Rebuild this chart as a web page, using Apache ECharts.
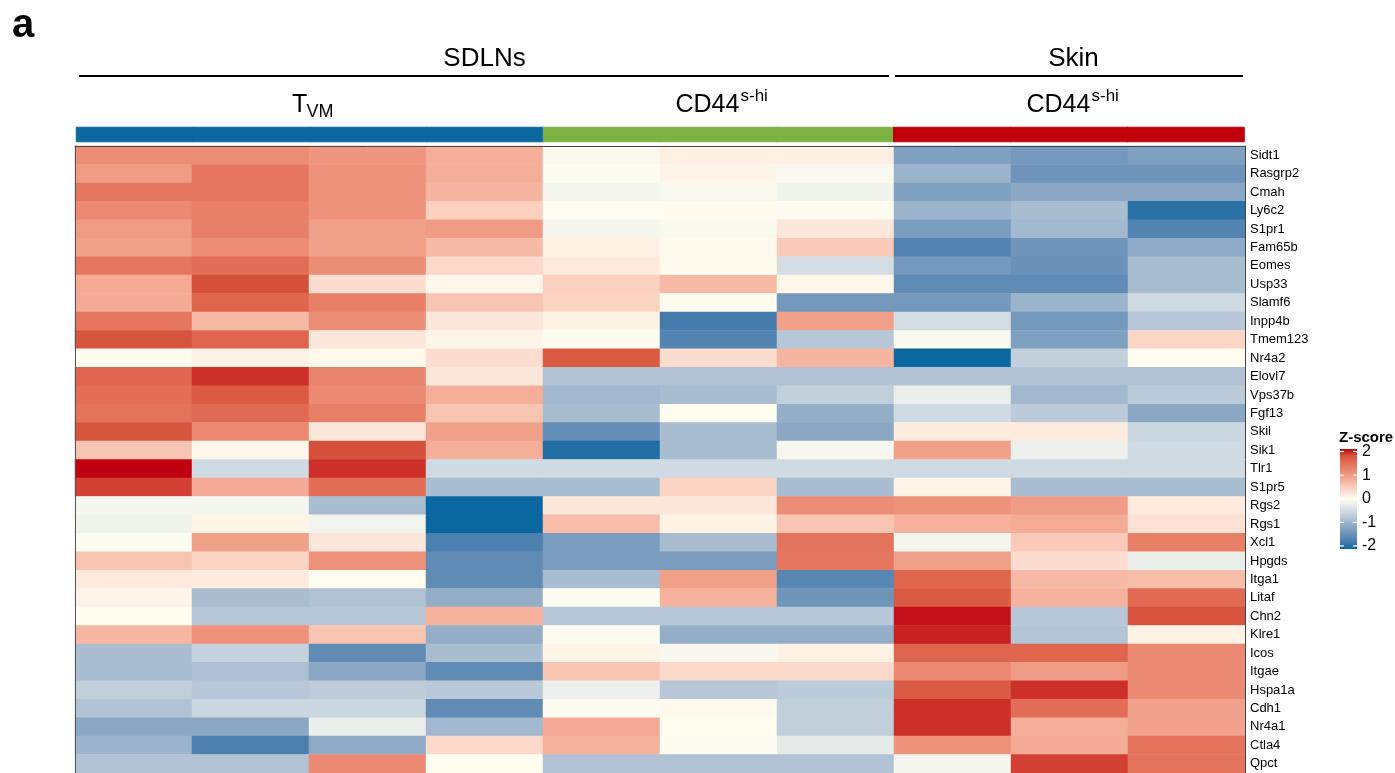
<!DOCTYPE html>
<html><head><meta charset="utf-8">
<script src="https://cdn.jsdelivr.net/npm/echarts@6/dist/echarts.min.js"></script>
<style>html,body{margin:0;padding:0;background:#fff}#c{width:1395px;height:773px}</style>
</head><body><div id="c"></div>
<script>
// ---------- data ----------
const genes = ['Sidt1','Rasgrp2','Cmah','Ly6c2','S1pr1','Fam65b','Eomes','Usp33','Slamf6','Inpp4b',
  'Tmem123','Nr4a2','Elovl7','Vps37b','Fgf13','Skil','Sik1','Tlr1','S1pr5','Rgs2','Rgs1','Xcl1',
  'Hpgds','Itga1','Litaf','Chn2','Klre1','Icos','Itgae','Hspa1a','Cdh1','Nr4a1','Ctla4','Qpct'];
const columnGroup = [0,0,0,0,1,1,1,2,2,2]; // 0: SDLNs TVM, 1: SDLNs CD44s-hi, 2: Skin CD44s-hi
const groupColors = ['#0A689F','#7DB342','#C0000D'];

// z-scores, one row per gene
const tvm = [
  [1.1,1.1,1.0,0.75],[0.95,1.35,1.05,0.75],[1.35,1.35,1.05,0.7],[1.15,1.25,1.05,0.45],
  [0.95,1.25,0.9,0.95],[0.9,1.1,0.9,0.65],[1.35,1.45,1.1,0.35],[0.8,1.75,0.3,0.05],
  [0.8,1.55,1.25,0.55],[1.35,0.65,1.1,0.2],[1.7,1.55,0.2,0.08],[0.0,0.1,0.04,0.3],
  [1.55,1.85,1.2,0.2],[1.45,1.65,1.15,0.75],[1.4,1.5,1.25,0.55],[1.7,1.15,0.2,0.9],
  [0.55,0.06,1.75,0.75],[2.0,-0.5,1.85,-0.5],[1.8,0.8,1.45,-0.85],[-0.1,-0.1,-0.85,-2.0],
  [-0.15,0.08,-0.12,-2.0],[-0.02,0.9,0.2,-1.65],[0.55,0.4,1.05,-1.5],[0.18,0.15,0.0,-1.5],
  [0.08,-0.85,-0.8,-1.0],[0.0,-0.75,-0.75,0.72],[0.68,1.05,0.55,-1.0],[-0.85,-0.6,-1.5,-0.85],
  [-0.85,-0.82,-1.1,-1.5],[-0.65,-0.75,-0.68,-0.72],[-0.8,-0.55,-0.55,-1.5],[-1.1,-1.1,-0.2,-0.9],
  [-0.95,-1.65,-1.05,0.35],[-0.8,-0.8,1.15,0.0]
];
const sdlnCd44 = [
  [-0.05,0.12,0.12],[-0.02,0.07,-0.05],[-0.1,-0.05,-0.15],[0.0,0.02,-0.01],[-0.1,-0.05,0.2],
  [0.1,0.03,0.5],[0.15,0.02,-0.45],[0.45,0.65,0.05],[0.4,0.02,-1.3],[0.1,-1.7,0.9],
  [-0.02,-1.6,-0.75],[1.65,0.3,0.7],[-0.8,-0.8,-0.8],[-0.9,-0.85,-0.65],[-0.85,0.0,-1.0],
  [-1.45,-0.85,-1.1],[-1.9,-0.85,-0.08],[-0.5,-0.5,-0.5],[-0.85,0.4,-0.85],[0.2,0.2,1.1],
  [0.62,0.1,0.55],[-1.25,-0.85,1.4],[-1.25,-1.25,1.35],[-0.85,0.9,-1.55],[-0.02,0.72,-1.35],
  [-0.75,-0.75,-0.75],[-0.01,-1.0,-1.0],[0.08,-0.07,0.1],[0.55,0.35,0.35],[-0.18,-0.75,-0.7],
  [-0.02,0.03,-0.65],[0.8,0.0,-0.65],[0.72,-0.02,-0.25],[-0.8,-0.8,-0.8]
];
const skinCd44 = [
  [-1.2,-1.3,-1.2],[-0.95,-1.35,-1.35],[-1.2,-1.1,-1.1],[-0.95,-0.85,-1.85],[-1.25,-0.9,-1.6],
  [-1.6,-1.35,-1.05],[-1.3,-1.4,-0.85],[-1.5,-1.5,-0.85],[-1.3,-0.95,-0.5],[-0.45,-1.3,-0.75],
  [-0.05,-1.2,0.38],[-2.0,-0.65,0.0],[-0.8,-0.8,-0.8],[-0.2,-0.9,-0.7],[-0.5,-0.7,-1.1],
  [0.15,0.15,-0.55],[0.9,-0.18,-0.5],[-0.5,-0.5,-0.5],[0.08,-0.85,-0.85],[1.05,0.95,0.17],
  [0.72,0.78,0.25],[-0.1,0.5,1.25],[0.9,0.3,-0.2],[1.55,0.65,0.62],[1.65,0.72,1.5],
  [1.95,-0.75,1.7],[1.9,-0.78,0.1],[1.55,1.55,1.15],[1.15,0.95,1.15],[1.65,1.85,1.15],
  [1.85,1.45,0.88],[1.85,0.75,0.88],[1.05,0.8,1.4],[-0.1,1.8,1.4]
];
const legendTicks = [2, 1, 0, -1, -2];
const zColors = ['#0A679F','#4078AA','#5F8BB5','#7A9CBF','#94AEC8','#B7C7D7','#CFDAE2','#E6EBEA',
  '#FFFDF0','#FDE2D4','#FACBBA','#F5AF99','#EF9680','#E88068','#E16A54','#D5503A','#C00010'];

// ---------- layout ----------
const L = 75, T = 146, W = 1170, rowH = 18.57, H = rowH * genes.length;
const cellW = W / columnGroup.length;
const cx = i => L + i * cellW;

const heatData = [];
genes.forEach((g, gi) => {
  const row = tvm[gi].concat(sdlnCd44[gi], skinCd44[gi]);
  row.forEach((v, ci) => heatData.push([ci, gi, v]));
});
const annData = columnGroup.map((g, ci) => ({value:[ci, 0, g],
  itemStyle:{borderColor:groupColors[g], borderWidth:1}}));
const cols = columnGroup.map((g, i) => 'c' + i);

const font = 'Arial, "Liberation Sans", Helvetica, sans-serif';
const graphics = [];
function txt(x, y, s, size, opts) {
  graphics.push(Object.assign({type:'text', x, y, z:100, style:Object.assign({text:s, font: size + 'px ' + font, fill:'#000', textAlign:'left', textVerticalAlign:'middle'}, opts||{})}));
}
function line(x1, y1, x2, y2, w, c) {
  graphics.push({type:'line', z:100, shape:{x1,y1,x2,y2}, style:{stroke:c||'#000', lineWidth:w}});
}
txt(12, 26, 'a', 40, {font:'bold 40px ' + font});
// SDLNs / Skin headers
txt((cx(0) + cx(7)) / 2, 58.5, 'SDLNs', 26, {textAlign:'center'});
line(cx(0) + 4, 76, cx(7) - 5, 76, 2);
txt((cx(7) + cx(10)) / 2 + 4, 58.5, 'Skin', 26, {textAlign:'center'});
line(cx(7) + 1, 76, cx(10) - 2, 76, 2);
// sub headers
const tvmC = (cx(0) + cx(4)) / 2;
txt(tvmC - 17, 105, 'T', 25);
txt(tvmC - 2.5, 112.5, 'VM', 18);
[[cx(4), cx(7)], [cx(7), cx(10)]].forEach(([a, b]) => {
  const c = (a + b) / 2;
  txt(c - 43, 105, 'CD44', 25);
  txt(c + 22, 96, 's-hi', 17);
});
// legend
const lgX = 1340, lgW = 17, lgTop = 449, lgBot = 549;
const tickY = v => 451.5 + (2 - v) * 23.6;
txt(1339, 438, 'Z-score', 15, {font:'bold 15px ' + font});
graphics.push({type:'rect', z:100, shape:{x:lgX, y:lgTop, width:lgW, height:lgBot - lgTop},
  style:{fill:new echarts.graphic.LinearGradient(0, 0, 0, 1,
    zColors.slice().reverse().map((c, i) => ({offset:i / (zColors.length - 1), color:c})))}});
legendTicks.forEach(v => {
  const y = tickY(v);
  line(lgX, y, lgX + 4, y, 1.2, '#fff');
  line(lgX + lgW - 4, y, lgX + lgW, y, 1.2, '#fff');
  txt(lgX + lgW + 5, y, String(v), 16);
});

const chart = echarts.init(document.getElementById('c'), null, {renderer:'canvas'});
chart.setOption({
  animation:false,
  backgroundColor:'#fff',
  grid:[
    {left:L, top:T, width:W, height:H},
    {left:L + 1.5, top:127.5, width:W - 2.5, height:14}
  ],
  xAxis:[
    {type:'category', data:cols, gridIndex:0, position:'top', z:10,
      axisLine:{show:true, lineStyle:{color:'#444', width:1}}, axisTick:{show:false}, axisLabel:{show:false}, splitLine:{show:false}},
    {type:'category', data:cols, gridIndex:1, show:false}
  ],
  yAxis:[
    {type:'category', data:genes, gridIndex:0, inverse:true, position:'right', z:10,
      axisLine:{show:true, lineStyle:{color:'#444', width:1}}, axisTick:{show:false},
      axisLabel:{show:true, fontSize:13, color:'#000', fontFamily:font, margin:5, interval:0}},
    {type:'category', data:genes, gridIndex:0, inverse:true, position:'left', z:10,
      axisLine:{show:true, lineStyle:{color:'#555', width:1}}, axisTick:{show:false}, axisLabel:{show:false}},
    {type:'category', data:['group'], gridIndex:1, show:false}
  ],
  visualMap:[
    {type:'continuous', min:-2, max:2, seriesIndex:0, dimension:2, show:false, inRange:{color:zColors}},
    {type:'piecewise', seriesIndex:1, dimension:2, show:false,
      pieces:groupColors.map((c, i) => ({value:i, color:c}))}
  ],
  series:[
    {type:'heatmap', xAxisIndex:0, yAxisIndex:0, data:heatData, emphasis:{disabled:true}, itemStyle:{borderWidth:0}},
    {type:'heatmap', xAxisIndex:1, yAxisIndex:2, data:annData, emphasis:{disabled:true}}
  ],
  graphic:graphics
});
</script></body></html>
